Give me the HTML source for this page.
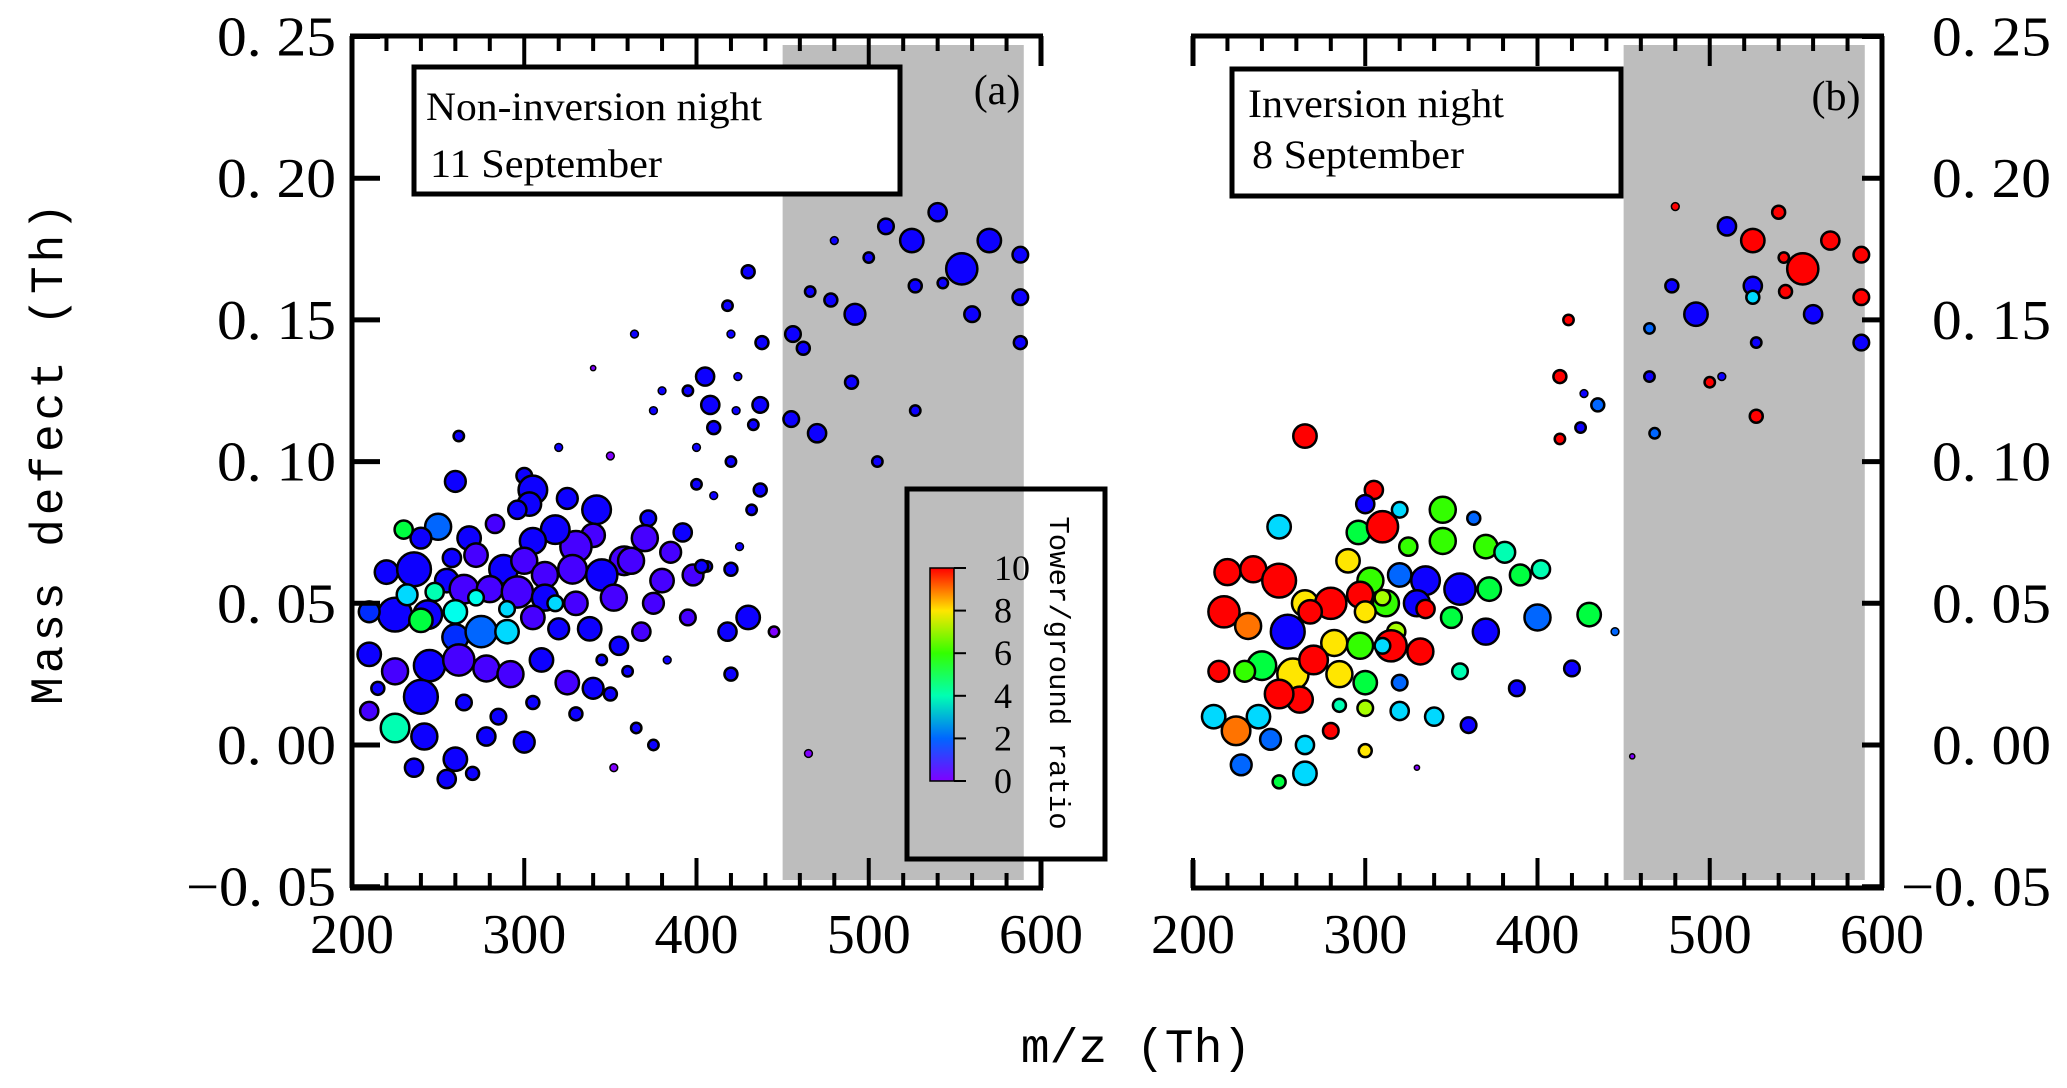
<!DOCTYPE html>
<html><head><meta charset="utf-8"><style>
html,body{margin:0;padding:0;background:#fff;}
svg{display:block;}
.mono{font-family:"Liberation Mono",monospace;}
.serif{font-family:"Liberation Serif",serif;}
</style></head><body>
<svg id="chart" width="2067" height="1088" viewBox="0 0 2067 1088" xmlns="http://www.w3.org/2000/svg">
<g id="bg"></g><g id="pts"></g><g id="axes"></g><g id="labels"></g>
</svg>
<script>
const xTicks = [200, 300, 400, 500, 600];
const yTicks = [-0.05, 0.00, 0.05, 0.10, 0.15, 0.20, 0.25];
const yTickLabels = ["\u22120. 05", "0. 00", "0. 05", "0. 10", "0. 15", "0. 20", "0. 25"];
const cbTicks = [0, 2, 4, 6, 8, 10];
const shadeRange = [450, 590];
// [m/z, mass defect, bubble size, tower/ground ratio]
const aPoints = [
[554,0.168,12,1],[540,0.188,7,1],[570,0.178,9,1],[525,0.178,9,1],[588,0.173,6,1],[510,0.183,6,1],[492,0.152,8,1],[478,0.157,5,1],[588,0.158,6,1],[527,0.162,5,1],[588,0.142,5,1],[543,0.163,4,1],[560,0.152,6,1],[466,0.16,4,1],[500,0.172,4,1],[456,0.145,6,1],[462,0.14,5,1],[470,0.11,7,1],[455,0.115,6,1],[505,0.1,4,1],[527,0.118,4,1],[490,0.128,5,1],[480,0.178,3,1],[490,0.205,3,1],[430,0.167,5,1],[418,0.155,4,1],[420,0.145,3,1],[438,0.142,5,1],[437,0.12,6,1],[424,0.13,3,1],[405,0.13,7,1],[408,0.12,7,1],[395,0.125,4,1],[410,0.112,5,1],[433,0.113,4,1],[423,0.118,3,1],[375,0.118,3,1],[380,0.125,3,1],[364,0.145,3,1],[400,0.105,3,1],[420,0.1,4,1],[437,0.09,5,1],[432,0.083,4,1],[425,0.07,3,1],[400,0.092,4,1],[410,0.088,3,1],[420,0.062,5,1],[406,0.063,4,1],[430,0.045,9,1],[418,0.04,7,1],[420,0.025,5,1],[445,0.04,4,0],[465,-0.003,3,0],[340,0.133,2,0],[350,0.102,3,0],[320,0.105,3,1],[262,0.109,4,1],[300,0.095,6,1],[260,0.093,8,1],
[305,0.09,11,1],[303,0.085,9,1],[325,0.087,8,1],[342,0.083,11,1],[372,0.08,6,1],[392,0.075,7,1],[385,0.068,8,0.5],[370,0.073,10,0.5],[358,0.065,11,0.5],[340,0.074,9,0.5],[330,0.07,12,0.5],[318,0.076,11,1],[305,0.072,10,1],[296,0.083,7,1],[283,0.078,7,0.5],[268,0.073,9,1],[250,0.077,10,2],[240,0.073,8,1],[230,0.076,7,5],[288,0.062,11,1],[300,0.065,10,0.5],[312,0.06,10,0.5],[328,0.062,11,0.5],[345,0.06,12,1],[362,0.065,10,0.5],[380,0.058,9,0.5],[398,0.06,8,0.5],[375,0.05,8,0.5],[395,0.045,6,0.5],[403,0.063,5,1],[220,0.061,9,1],[236,0.062,13,1],[255,0.058,9,1],[265,0.055,11,0.5],[280,0.055,10,0.5],[296,0.054,12,0.5],[312,0.052,10,1],[330,0.05,9,0.5],[352,0.052,10,0.5],[225,0.046,13,1],[244,0.046,11,1],[260,0.047,9,3.5],[272,0.052,6,3.5],[210,0.047,8,1.5],[240,0.044,9,5],[260,0.038,10,1.5],[275,0.04,12,2],[290,0.04,9,3],[305,0.045,9,0.5],[320,0.041,8,1],[338,0.041,9,1],[355,0.035,7,1],[368,0.04,7,0.5],[210,0.032,9,1],[225,0.026,10,0.5],[245,0.028,12,1],[262,0.03,12,0.5],[278,0.027,10,0.5],[292,0.025,10,0.5],[310,0.03,9,1],[325,0.022,9,0.5],[340,0.02,8,1],[240,0.017,13,1],[210,0.012,7,0.5],[225,0.006,11,4],[242,0.003,10,1],[260,-0.005,9,1],[278,0.003,7,1],[300,0.001,8,1],[236,-0.008,7,1],[255,-0.012,7,1],[270,-0.01,5,1],[265,0.015,6,1],[285,0.01,6,1],[305,0.015,5,1],[330,0.011,5,1],[350,0.018,5,1],[365,0.006,4,1],[375,0.0,4,1],[352,-0.008,3,0],[345,0.03,4,1],[360,0.026,4,1],[383,0.03,3,1],[232,0.053,8,3],[248,0.054,7,4],[215,0.02,5,1],[290,0.048,6,3],[272,0.067,9,0.5],[258,0.066,7,1],[318,0.05,6,3]
];
const bPoints = [
[554,0.168,12,10],[525,0.178,9,10],[570,0.178,7,10],[588,0.173,6,10],[540,0.188,5,10],[510,0.183,7,1],[492,0.152,9,1],[525,0.162,7,1],[525,0.158,5,3],[560,0.152,7,1],[544,0.16,5,10],[588,0.158,6,10],[588,0.142,6,1],[543,0.172,4,10],[478,0.162,5,1],[465,0.147,4,2],[527,0.142,4,1],[500,0.128,4,10],[527,0.116,5,10],[468,0.11,4,2],[480,0.19,3,10],[418,0.15,4,10],[435,0.12,5,2],[427,0.124,3,1],[413,0.13,5,10],[425,0.112,4,1],[413,0.108,4,10],[465,0.13,4,1],[507,0.13,3,1],
[265,0.109,9,10],[305,0.09,7,10],[300,0.085,7,1],[320,0.083,6,3],[345,0.083,10,6],[363,0.08,5,2],[296,0.075,9,5],[310,0.077,12,10],[325,0.07,7,6],[345,0.072,10,6],[370,0.07,9,6],[381,0.068,8,4],[390,0.06,8,5],[402,0.062,7,4],[250,0.077,9,3],[290,0.065,9,8],[303,0.058,10,6],[320,0.06,9,2],[335,0.058,11,1],[355,0.055,12,1],[372,0.055,9,5],[220,0.061,10,10],[235,0.062,10,10],[250,0.058,13,10],[265,0.05,10,8],[280,0.05,12,10],[297,0.053,10,10],[312,0.05,10,6],[330,0.05,10,1],[350,0.045,8,5],[218,0.047,12,10],[232,0.042,10,9],[255,0.04,13,1],[268,0.047,9,10],[282,0.036,10,8],[297,0.035,10,6],[318,0.04,7,7],[335,0.048,7,10],[370,0.04,10,1],[400,0.045,10,2],[430,0.046,9,5],[420,0.027,6,1],[240,0.028,11,5],[258,0.025,12,8],[270,0.03,11,10],[285,0.025,10,8],[300,0.022,9,5],[315,0.035,12,10],[332,0.033,10,10],[262,0.016,10,10],[250,0.018,11,10],[230,0.026,8,6],[215,0.026,8,10],[300,0.013,6,7],[320,0.012,7,3],[340,0.01,7,3],[360,0.007,6,1],[238,0.01,9,3],[225,0.005,11,9],[212,0.01,9,3],[245,0.002,8,2],[265,0.0,7,3],[280,0.005,6,10],[300,-0.002,5,8],[228,-0.007,8,2],[250,-0.013,5,5],[265,-0.01,9,3],[388,0.02,6,1],[355,0.026,6,4],[310,0.052,6,7],[320,0.022,6,2],[285,0.014,5,4],[310,0.035,6,3],[300,0.047,8,8],[445,0.04,3,2],[455,-0.004,2,0],[330,-0.008,2,0]
];

const NS = "http://www.w3.org/2000/svg";
const Y0 = 745, YPX = 2834;
const XPX = 1.7225;
const RSCALE = 1.3;
const panels = [{x0:352, pts:aPoints, id:'a'}, {x0:1193, pts:bPoints, id:'b'}];
const TOP = 36, BOT = 888;
function xs(p, mz){ return p.x0 + (mz - 200) * XPX; }
function ys(md){ return Y0 - md * YPX; }
function color(v){ v = Math.max(0, Math.min(10, v)); return 'hsl(' + (270 - 27 * v) + ',100%,50%)'; }
function mk(tag, attrs, parent){ const e = document.createElementNS(NS, tag); for (const k in attrs) e.setAttribute(k, attrs[k]); parent.appendChild(e); return e; }
const bg = document.getElementById('bg'), ptsG = document.getElementById('pts'), ax = document.getElementById('axes'), lb = document.getElementById('labels');

panels.forEach((p, pi) => {
  const sh = mk('rect', {x: xs(p, shadeRange[0]), y: 45, width: xs(p, shadeRange[1]) - xs(p, shadeRange[0]), height: 835, fill: '#bdbdbd'}, bg);
  
  
  p.pts.forEach((d, i) => {
    const c = mk('circle', {cx: xs(p, d[0]), cy: ys(d[1]), r: d[2] * RSCALE, fill: color(d[3]), stroke: '#000', 'stroke-width': d[2] < 4 ? 1.5 : 2.5}, ptsG);
    
    
  });
  const L = xs(p, 200), R = xs(p, 600);
  mk('line', {x1: L - 2, y1: TOP, x2: R + 2, y2: TOP, stroke: '#000', 'stroke-width': 5}, ax);
  mk('line', {x1: L - 2, y1: BOT, x2: R + 2, y2: BOT, stroke: '#000', 'stroke-width': 5}, ax);
  if (pi === 0) {
    mk('line', {x1: L, y1: TOP, x2: L, y2: BOT, stroke: '#000', 'stroke-width': 5}, ax);
    mk('line', {x1: R, y1: TOP, x2: R, y2: TOP + 30, stroke: '#000', 'stroke-width': 5}, ax);
    mk('line', {x1: R, y1: BOT - 28, x2: R, y2: BOT, stroke: '#000', 'stroke-width': 5}, ax);
  } else {
    mk('line', {x1: R, y1: TOP, x2: R, y2: BOT, stroke: '#000', 'stroke-width': 5}, ax);
    mk('line', {x1: L, y1: TOP, x2: L, y2: TOP + 30, stroke: '#000', 'stroke-width': 5}, ax);
    mk('line', {x1: L, y1: BOT - 28, x2: L, y2: BOT, stroke: '#000', 'stroke-width': 5}, ax);
  }
  for (let v = 200; v <= 600; v += 20) {
    const x = xs(p, v), major = (v % 100 === 0), len = major ? 30 : 15;
    mk('line', {x1: x, y1: TOP, x2: x, y2: TOP + len, stroke: '#000', 'stroke-width': 4}, ax);
    mk('line', {x1: x, y1: BOT, x2: x, y2: BOT - len, stroke: '#000', 'stroke-width': 4}, ax);
  }
  xTicks.forEach(v => {
    const t = mk('text', {x: xs(p, v), y: 953, 'text-anchor': 'middle', 'font-size': 56, class: 'serif'}, lb);
    t.textContent = v;
    
    
  });
  yTicks.forEach((v, i) => {
    const y = ys(v);
    if (pi === 0) mk('line', {x1: L, y1: y, x2: L + 28, y2: y, stroke: '#000', 'stroke-width': 5}, ax);
    else mk('line', {x1: R, y1: y, x2: R - 20, y2: y, stroke: '#000', 'stroke-width': 5}, ax);
    const neg = v < 0;
    const w = neg ? 150 : 119;
    const t = mk('text', pi === 0 ? {x: 336 - w, y: y + 19, 'font-size': 56, class: 'serif', textLength: w, lengthAdjust: 'spacingAndGlyphs'} : {x: neg ? 1901 : 1932, y: y + 19, 'font-size': 56, class: 'serif', textLength: w, lengthAdjust: 'spacingAndGlyphs'}, lb);
    t.textContent = yTickLabels[i];
    
    
  });
});

const cbTop = 568, cbBot = 781;
cbTicks.forEach(v => {
  const y = cbBot - (v / 10) * (cbBot - cbTop);
  mk('line', {x1: 954, y1: y, x2: 966, y2: y, stroke: '#000', 'stroke-width': 2}, ax);
  const t = mk('text', {x: 994, y: y + 12, 'text-anchor': 'start', 'font-size': 36, class: 'serif'}, lb);
  t.textContent = v;
  
  
});
</script>
<svg style="position:absolute;left:0;top:0" width="2067" height="1088">
  <defs><linearGradient id="cbg" x1="0" y1="1" x2="0" y2="0">
    <stop offset="0" stop-color="hsl(270,100%,50%)"/><stop offset="0.2" stop-color="hsl(216,100%,50%)"/>
    <stop offset="0.4" stop-color="hsl(162,100%,50%)"/><stop offset="0.6" stop-color="hsl(108,100%,50%)"/>
    <stop offset="0.8" stop-color="hsl(54,100%,50%)"/><stop offset="1" stop-color="hsl(0,100%,50%)"/>
  </linearGradient></defs>
  <g>
    <rect x="414" y="67" width="486" height="127" fill="#fff" stroke="#000" stroke-width="5"/>
    <text x="426" y="120" font-size="40" textLength="336" lengthAdjust="spacingAndGlyphs" font-family="Liberation Serif, serif">Non-inversion night</text>
    <text x="430" y="177" font-size="40" textLength="232" lengthAdjust="spacingAndGlyphs" font-family="Liberation Serif, serif">11 September</text>
  </g>
  <g>
    <rect x="1232" y="69" width="389" height="127" fill="#fff" stroke="#000" stroke-width="5"/>
    <text x="1248" y="117" font-size="40" textLength="256" lengthAdjust="spacingAndGlyphs" font-family="Liberation Serif, serif">Inversion night</text>
    <text x="1252" y="168" font-size="40" textLength="212" lengthAdjust="spacingAndGlyphs" font-family="Liberation Serif, serif">8 September</text>
  </g>
  <text x="997" y="104" text-anchor="middle" font-size="42" font-family="Liberation Serif, serif">(a)</text>
  <text x="1836" y="110" text-anchor="middle" font-size="42" font-family="Liberation Serif, serif">(b)</text>
  <g>
    <rect x="907" y="489" width="198" height="370" fill="none" stroke="#000" stroke-width="5"/>
    <rect x="930" y="568" width="24" height="213" fill="url(#cbg)" stroke="#000" stroke-width="1.5"/>
    <text transform="translate(1050,673) rotate(90)" text-anchor="middle" font-size="29" font-family="Liberation Mono, monospace">Tower/ground ratio</text>
  </g>
  <text transform="translate(62,452) rotate(-90)" text-anchor="middle" font-size="46" letter-spacing="4" font-family="Liberation Mono, monospace">Mass defect (Th)</text>
  <text x="1136" y="1062" text-anchor="middle" font-size="48" font-family="Liberation Mono, monospace">m/z (Th)</text>
</svg>
</body></html>
